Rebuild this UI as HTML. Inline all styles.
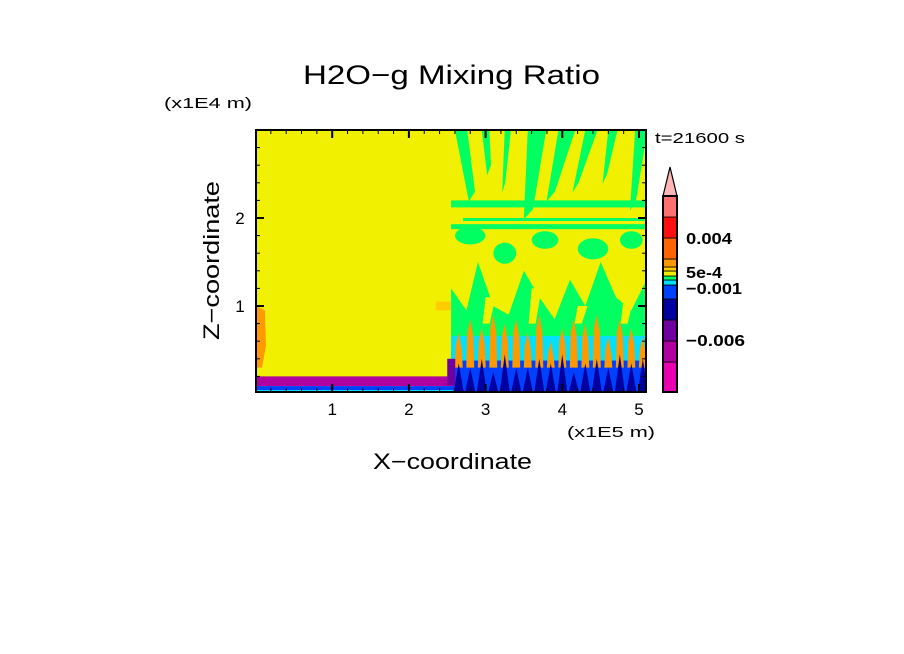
<!DOCTYPE html>
<html><head><meta charset="utf-8"><style>
html,body{margin:0;padding:0;background:#fff;}
svg{display:block;font-family:"Liberation Sans",sans-serif;}
</style></head><body>
<svg id="chart" width="904" height="654" viewBox="0 0 904 654" xmlns="http://www.w3.org/2000/svg">
<defs><clipPath id="pc"><rect x="256" y="130" width="390" height="262"/></clipPath></defs>
<text x="303" y="84" font-size="27" textLength="297" lengthAdjust="spacingAndGlyphs">H2O−g Mixing Ratio</text>
<text x="164" y="108" font-size="15" textLength="88" lengthAdjust="spacingAndGlyphs">(x1E4 m)</text>
<text x="655" y="143" font-size="15" textLength="90" lengthAdjust="spacingAndGlyphs">t=21600 s</text>
<text x="567" y="437" font-size="15" textLength="88" lengthAdjust="spacingAndGlyphs">(x1E5 m)</text>
<text x="373" y="469" font-size="22" textLength="159" lengthAdjust="spacingAndGlyphs">X−coordinate</text>
<text transform="translate(219,340) rotate(-90)" font-size="22" textLength="159" lengthAdjust="spacingAndGlyphs">Z−coordinate</text>
<g id="field" clip-path="url(#pc)"></g>
<g id="axes"></g>
<g id="cbar"></g>
</svg>
<script>
const xTicks=[1,2,3,4,5];
const zTicks=[1,2];
const levelColors=["#e800b0","#b000a0","#7000a0","#0000a0","#0040ff","#00e0ff","#00ff60","#f0f000","#ffcc00","#ff9900","#ff6600","#ff1010","#ff7070"];
const levelBounds=[392,362,341,320,299,285,280,276,271,267,259,238,217,196];
const cbarLabels=["0.004","5e-4","−0.001","−0.006"];
const cbarLabelY=[244,278,294,346];
const cbarLabelW=[46,36,56,59];
// upper green streaks: x at top (1E5 m), x at bottom, bottom z, width (1E5 m)
const upX=[2.6,2.95,3.25,3.55,3.95,4.3,4.6,4.95];
const upXb=[2.75,3.0,3.2,3.45,3.75,4.1,4.5,4.85];
const upZb=[2.3,2.6,2.4,2.1,2.3,2.4,2.5,2.2];
const upW=[0.16,0.1,0.08,0.24,0.22,0.16,0.12,0.16];
// green layer upper edge (z, 1E4 m) at x positions (1E5 m)
const edgeX=[2.55,2.75,2.9,3.1,3.3,3.5,3.7,3.9,4.1,4.3,4.5,4.7,4.9,5.1];
const edgeZ=[1.2,0.95,1.5,1.0,0.9,1.4,1.1,0.85,1.3,1.0,1.5,1.1,0.95,1.3];
// lower-level plumes
const plumeX=[2.65,2.8,2.95,3.1,3.25,3.4,3.55,3.7,3.85,4.0,4.15,4.3,4.45,4.6,4.75,4.9,5.05];
const orangeTop=[0.7,0.85,0.75,0.9,0.8,0.85,0.7,0.9,0.6,0.75,0.85,0.8,0.9,0.65,0.85,0.75,0.65];
const blueTop=[0.35,0.3,0.4,0.25,0.45,0.3,0.3,0.4,0.35,0.45,0.25,0.35,0.4,0.3,0.45,0.35,0.4];
// yellow streaks through the green layer
const yelX=[3.0,3.6,4.2,4.8];
const yelTop=[1.1,1.2,1.0,1.1];
const sx=x=>255.5+x*76.7, sz=z=>394-z*88;
const NS="http://www.w3.org/2000/svg";
function mk(parent,tag,attrs){const e=document.createElementNS(NS,tag);for(const k in attrs)e.setAttribute(k,attrs[k]);parent.appendChild(e);return e;}
const F=document.getElementById('field');
const RX=sx(2.55), RW=646-sx(2.55);
let r=mk(F,'rect',{x:256,y:130,width:390,height:262,fill:"#f0f000"});


let le=mk(F,'path',{d:`M256 ${sz(1.0)} L265 ${sz(0.95)} L266 ${sz(0.55)} L262 ${sz(0.3)} L256 ${sz(0.3)}Z`,fill:"#ff9900"});


let lo=mk(F,'rect',{x:sx(2.35),y:sz(1.05),width:RX-sx(2.35),height:sz(0.95)-sz(1.05),fill:"#ffcc00"});


// green mid layer
let d=`M${RX} ${sz(0.4)}`;
edgeX.forEach((x,i)=>{d+=` L${sx(x)} ${sz(edgeZ[i])}`;});
d+=` L646 ${sz(0.4)}Z`;
let gm=mk(F,'path',{d:d,fill:"#00ff60"});


// upper green streaks
upX.forEach((x,i)=>{
  const w=upW[i]*76.7;
  let g=mk(F,'path',{d:`M${sx(x)} 130 L${sx(x)+w} 130 L${sx(upXb[i])+w*0.7} ${sz(upZb[i])} L${sx(upXb[i])+w*0.2} ${sz(upZb[i])+10} Z`,fill:"#00ff60"});
  
  
});
yelX.forEach((x,i)=>{
  let y=mk(F,'path',{d:`M${sx(x)} ${sz(yelTop[i])} L${sx(x)+10} ${sz(yelTop[i])} L${sx(x)+4} ${sz(0.8)} L${sx(x)-3} ${sz(0.8)}Z`,fill:"#f0f000"});
  
  
});
// mid-level green clusters
[[2.6,1.8,0.4,0.1],[3.1,1.6,0.3,0.12],[3.6,1.75,0.35,0.1],[4.2,1.65,0.4,0.12],[4.75,1.75,0.3,0.1]].forEach(b=>{
  let e=mk(F,'ellipse',{cx:sx(b[0]+b[2]/2),cy:sz(b[1]),rx:b[2]*38,ry:b[3]*88,fill:"#00ff60"});
  
  
});
// horizontal bands
let h2=mk(F,'rect',{x:RX,y:sz(2.2),width:RW,height:7,fill:"#00ff60"});


let h1=mk(F,'rect',{x:RX+12,y:sz(2.0),width:RW-12,height:3,fill:"#00ff60"});


let h3=mk(F,'rect',{x:RX,y:sz(1.93),width:RW,height:5,fill:"#00ff60"});


// cyan band
let rc=mk(F,'rect',{x:RX,y:sz(0.66),width:RW,height:sz(0.35)-sz(0.66),fill:"#00e0ff"});


// blue base
let rb=mk(F,'rect',{x:RX,y:sz(0.38),width:RW,height:392-sz(0.38),fill:"#0040ff"});


plumeX.forEach((x,i)=>{
  const c=sx(x);
  let o=mk(F,'path',{d:`M${c-4} ${sz(0.3)} L${c-3} ${sz(orangeTop[i]-0.15)} L${c} ${sz(orangeTop[i])} L${c+3} ${sz(orangeTop[i]-0.2)} L${c+4} ${sz(0.3)}Z`,fill:"#ff9900"});
  
  
  let b=mk(F,'path',{d:`M${c-5} 392 L${c} ${sz(blueTop[i])} L${c+5} 392Z`,fill:"#0000a0"});
  
  
});
// left bottom layers
let bl=mk(F,'rect',{x:256,y:sz(0.2),width:sx(2.58)-256,height:sz(0.09)-sz(0.2),fill:"#b000a0"});


let bb=mk(F,'rect',{x:256,y:sz(0.09),width:sx(2.58)-256,height:8,fill:"#0040ff"});


let bg=mk(F,'rect',{x:256,y:sz(0.045),width:sx(2.58)-256,height:3,fill:"#00e0ff"});


let bp=mk(F,'rect',{x:sx(2.5),y:sz(0.4),width:8,height:sz(0.1)-sz(0.4),fill:"#7000a0"});


// axes
const A=document.getElementById('axes');
let fr=mk(A,'rect',{x:256,y:130,width:390,height:262,fill:"none",stroke:"#000","stroke-width":2});


for(let x=0.2;x<5.09;x+=0.2){const big=Math.abs(x-Math.round(x))<0.01;const L=big?8:4;
  mk(A,'line',{x1:sx(x),x2:sx(x),y1:392,y2:392-L,stroke:"#000","stroke-width":big?2:1});
  mk(A,'line',{x1:sx(x),x2:sx(x),y1:130,y2:130+L,stroke:"#000","stroke-width":big?2:1});}
for(let z=0.2;z<3;z+=0.2){const big=Math.abs(z-Math.round(z))<0.01;const L=big?8:4;
  mk(A,'line',{y1:sz(z),y2:sz(z),x1:256,x2:256+L,stroke:"#000","stroke-width":big?2:1});
  mk(A,'line',{y1:sz(z),y2:sz(z),x1:646,x2:646-L,stroke:"#000","stroke-width":big?2:1});}
xTicks.forEach(v=>{let t=mk(A,'text',{x:sx(v),y:415,"font-size":17,"text-anchor":"middle"});t.textContent=v;
  
  });
zTicks.forEach(v=>{let t=mk(A,'text',{x:240,y:sz(v)+6,"font-size":17,"text-anchor":"middle"});t.textContent=v;
  
  });
// colorbar
const C=document.getElementById('cbar');
levelColors.forEach((col,i)=>{let s=mk(C,'rect',{x:663,y:levelBounds[i+1],width:14,height:levelBounds[i]-levelBounds[i+1],fill:col,stroke:"#000","stroke-width":0.8});
  
  });
let tri=mk(C,'path',{d:"M663 196 L670 167 L677 196Z",fill:"#ffb6b6",stroke:"#000","stroke-width":1.2});


mk(C,'rect',{x:663,y:196,width:14,height:196,fill:"none",stroke:"#000","stroke-width":2});
cbarLabels.forEach((l,i)=>{let t=mk(C,'text',{x:686,y:cbarLabelY[i],"font-size":16,"font-weight":"bold",textLength:cbarLabelW[i],lengthAdjust:"spacingAndGlyphs"});t.textContent=l;
  
  });
</script>
</body></html>
